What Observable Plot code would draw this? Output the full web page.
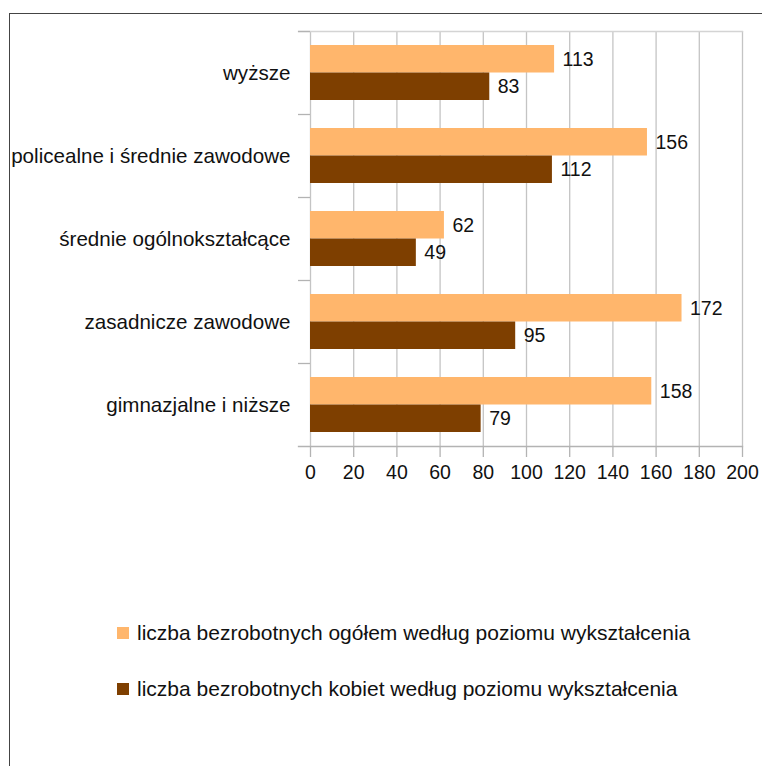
<!DOCTYPE html>
<html>
<head>
<meta charset="utf-8">
<script src="https://cdn.jsdelivr.net/npm/d3@7"></script>
<script src="https://cdn.jsdelivr.net/npm/@observablehq/plot@0.6"></script>
<style>
  html, body { margin: 0; padding: 0; background: #fff; }
  body { font-family: "Liberation Sans", Arial, sans-serif; }
  #wrap { position: relative; width: 762px; height: 766px; overflow: hidden; }
  #chart { position: absolute; left: 0; top: 0; }
  #border { position: absolute; left: 9px; top: 13px; width: 800px; height: 800px; border: 1px solid #444; box-sizing: border-box; }
  .legend { position: absolute; left: 117px; font-size: 21px; color: #111; display: flex; align-items: center; white-space: nowrap; }
  .legend .sw { width: 12px; height: 12px; margin-right: 8px; }
</style>
</head>
<body>
<div id="wrap">
  <div id="chart"></div>
  <div id="legend"></div>
  <div id="border"></div>
</div>
<script>
const categories = ["wyższe", "policealne i średnie zawodowe", "średnie ogólnokształcące", "zasadnicze zawodowe", "gimnazjalne i niższe"];
const ogolem = [113, 156, 62, 172, 158];
const kobiety = [83, 112, 49, 95, 79];
const xTicks = [0, 20, 40, 60, 80, 100, 120, 140, 160, 180, 200];
const seriesNames = ["liczba bezrobotnych ogółem według poziomu wykształcenia", "liczba bezrobotnych kobiet według poziomu wykształcenia"];
const seriesColors = ["#ffb66c", "#7e3f00"];

const data = categories.map((c, i) => ({cat: c, ogolem: ogolem[i], kobiety: kobiety[i]}));

const gridColor = "#c4c4c4";
const axisColor = "#b3b3b3";
const fs = 19.5;
const catFs = 20.6;
const band = 83;

const chart = Plot.plot({
  width: 762,
  height: 500,
  marginTop: 31,
  marginLeft: 310,
  marginRight: 20,
  marginBottom: 54,
  style: {fontFamily: "Liberation Sans, Arial, sans-serif", background: "transparent", color: "#111"},
  x: {domain: [0, 200]},
  y: {type: "band", domain: categories, padding: 0},
  marks: [
    Plot.gridX(xTicks, {stroke: gridColor, strokeOpacity: 1, strokeWidth: 1.3}),
    Plot.frame({anchor: "top", stroke: "#d4d4d4", strokeWidth: 1.3, insetLeft: -12}),
    Plot.frame({anchor: "bottom", stroke: axisColor, strokeWidth: 1.3, insetLeft: -12}),
    Plot.barX(data, {x: "ogolem", y: "cat", fill: seriesColors[0], insetTop: 14, insetBottom: band / 2}),
    Plot.barX(data, {x: "kobiety", y: "cat", fill: seriesColors[1], insetTop: band / 2, insetBottom: 14}),
    Plot.text(data, {x: "ogolem", y: "cat", text: d => String(d.ogolem), textAnchor: "start", dx: 8, dy: -13.75, fontSize: fs, fill: "#111"}),
    Plot.text(data, {x: "kobiety", y: "cat", text: d => String(d.kobiety), textAnchor: "start", dx: 8, dy: 13.75, fontSize: fs, fill: "#111"}),
    Plot.axisY({tickSize: 0, tickPadding: 20, fontSize: catFs, label: null, fill: "#111"}),
    Plot.axisY({text: null, tickSize: 12, dy: -band / 2, stroke: axisColor, strokeWidth: 1.3, label: null}),
    Plot.axisX(xTicks, {tickSize: 11, tickPadding: 8, fontSize: fs, stroke: axisColor, strokeWidth: 1.3, fill: "#111", label: null, tickFormat: d => String(d)})
  ]
});
document.getElementById("chart").appendChild(chart);

const leg = document.getElementById("legend");
const legendTops = [633, 689];
seriesNames.forEach((name, i) => {
  const row = document.createElement("div");
  row.className = "legend";
  row.style.top = (legendTops[i] - 12) + "px";
  row.style.height = "24px";
  const sw = document.createElement("span");
  sw.className = "sw";
  sw.style.background = seriesColors[i];
  const tx = document.createElement("span");
  tx.textContent = name;
  row.appendChild(sw);
  row.appendChild(tx);
  leg.appendChild(row);
});
</script>
</body>
</html>
